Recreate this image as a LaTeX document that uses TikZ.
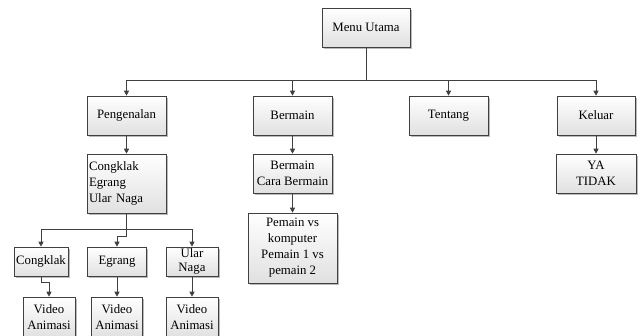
\documentclass[tikz,border=0pt]{standalone}
\usepackage{fontspec}
\setmainfont{Liberation Serif}
\usepackage{tikz}
\usetikzlibrary{positioning,calc,shadows,arrows.meta}

\tikzset{
  menubox/.style={draw=black!75, line width=0.6pt, top color=white, bottom color=black!12,
    align=center, inner sep=2pt, font=\fontsize{12.8}{16}\selectfont,
    drop shadow={shadow xshift=1.6pt, shadow yshift=-1.6pt, fill=black!45, opacity=0.6}},
  link/.style={draw=black!75, line width=0.7pt, -{Triangle[length=5pt,width=5pt]}}
}

\begin{document}
\begin{tikzpicture}[x=1pt,y=-1pt]
\useasboundingbox (0,0) rectangle (642,335);

\node[menubox, minimum width=88pt, minimum height=39pt] (menu) at (366,27.5) {Menu Utama};

\node[menubox, minimum width=79pt, minimum height=39pt] (peng) at (126.5,115.5) {Pengenalan};
\node[menubox, minimum width=79pt, minimum height=39pt] (main) at (292.5,115.5) {Bermain};
\node[menubox, minimum width=79pt, minimum height=39pt] (tentang) at (448.5,115.5) {Tentang};
\node[menubox, minimum width=78pt, minimum height=39pt] (keluar) at (596,115.5) {Keluar};

\node[menubox, text width=75pt, align=left, minimum height=59pt] (daftar) at (126.5,183.5) {Congklak\\Egrang\\Ular Naga};
\node[menubox, minimum width=79pt, minimum height=39pt] (cara) at (292.5,173.5) {Bermain\\Cara Bermain};
\node[menubox, minimum width=89pt, minimum height=70pt] (pemain) at (292.5,248) {Pemain vs\\komputer\\Pemain 1 vs\\pemain 2};
\node[menubox, minimum width=80pt, minimum height=39pt] (yatidak) at (596,173.5) {YA\\TIDAK};

\node[menubox, minimum width=54pt, minimum height=29pt] (congklak) at (41,261.5) {Congklak};
\node[menubox, minimum width=59pt, minimum height=29pt] (egrang) at (117,261.5) {Egrang};
\node[menubox, minimum width=52pt, minimum height=29pt, inner sep=1pt, font=\fontsize{12.8}{13.5}\selectfont] (ular) at (192,261.5) {Ular\\Naga};

\node[menubox, minimum width=52pt, minimum height=40pt] (video1) at (49,317) {Video\\Animasi};
\node[menubox, minimum width=51pt, minimum height=40pt] (video2) at (117,317) {Video\\Animasi};
\node[menubox, minimum width=52pt, minimum height=40pt] (video3) at (192,317) {Video\\Animasi};

\draw[link] (menu.south) |- ([yshift=15pt]peng.north) -- (peng.north);
\draw[link] (menu.south) |- ([yshift=15pt]main.north) -- (main.north);
\draw[link] (menu.south) |- ([yshift=15pt]tentang.north) -- (tentang.north);
\draw[link] (menu.south) |- ([yshift=15pt]keluar.north) -- (keluar.north);

\draw[link] (peng.south) -- (daftar.north);
\draw[link] (main.south) -- (cara.north);
\draw[link] (cara.south) -- (pemain.north);
\draw[link] (keluar.south) -- (yatidak.north);

\draw[link] (daftar.south) |- ([yshift=17pt]congklak.north) -- (congklak.north);
\draw[link] (daftar.south) |- ([yshift=10pt]egrang.north) -- (egrang.north);
\draw[link] (daftar.south) |- ([yshift=17pt]ular.north) -- (ular.north);

\draw[link] (congklak.south) |- ([yshift=14pt]video1.north) -- (video1.north);
\draw[link] (egrang.south) -- (video2.north);
\draw[link] (ular.south) -- (video3.north);
\end{tikzpicture}
\end{document}
